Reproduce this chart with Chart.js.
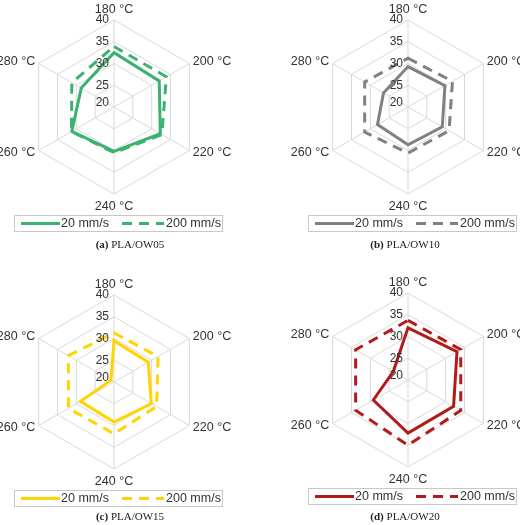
<!DOCTYPE html>
<html><head><meta charset="utf-8">
<script src="https://cdn.jsdelivr.net/npm/chart.js@4"></script>
<style>
body{margin:0;background:#fff;width:520px;height:525px;position:relative;overflow:hidden}
.p{position:absolute;width:260px;height:250px}
.cap{position:absolute;width:260px;text-align:center;font:11px "Liberation Serif",serif;color:#222}
</style></head><body>
<div class="p" style="left:0;top:0"><canvas id="c0" width="260" height="250"></canvas></div>
<div class="p" style="left:260px;top:0"><canvas id="c1" width="260" height="250"></canvas></div>
<div class="p" style="left:0;top:262px"><canvas id="c2" width="260" height="250"></canvas></div>
<div class="p" style="left:260px;top:262px"><canvas id="c3" width="260" height="250"></canvas></div>
<div class="cap" style="left:0;top:238px"><b>(a)</b> PLA/OW05</div>
<div class="cap" style="left:260px;top:238px;padding-left:30px;box-sizing:border-box"><b>(b)</b> PLA/OW10</div>
<div class="cap" style="left:0;top:510px"><b>(c)</b> PLA/OW15</div>
<div class="cap" style="left:260px;top:510px;padding-left:30px;box-sizing:border-box"><b>(d)</b> PLA/OW20</div>
<script>
const categories = ["180 °C","200 °C","220 °C","240 °C","260 °C","280 °C"];
const seriesNames = ["20 mm/s","200 mm/s"];
const tickValues = [20,25,30,35,40];
const ow05_20 = [32.5,32.0,32.3,30.2,31.2,28.7];
const ow05_200 = [33.9,33.9,32.7,30.5,31.3,31.2];
const ow10_20 = [29.3,29.8,29.1,28.7,28.1,26.5];
const ow10_200 = [31.2,31.8,30.9,30.6,31.5,31.5];
const ow15_20 = [29.5,29.1,29.9,29.2,28.9,20.8];
const ow15_200 = [31.3,31.7,31.3,31.9,32.1,32.1];
const ow20_20 = [32.0,33.0,32.1,32.2,29.2,23.9];
const ow20_200 = [33.7,34.0,34.0,35.0,33.9,33.9];
const colors = ["#3bb36e","#808080","#ffd400","#b31b1b"];

const panels = [
  {id:"c0", a:ow05_20, b:ow05_200, col:colors[0], cx:114, cy:107},
  {id:"c1", a:ow10_20, b:ow10_200, col:colors[1], cx:148, cy:107},
  {id:"c2", a:ow15_20, b:ow15_200, col:colors[2], cx:114, cy:120},
  {id:"c3", a:ow20_20, b:ow20_200, col:colors[3], cx:148, cy:118}
];
const FONT = "'Liberation Sans', Arial, sans-serif";

const deco = {
  id:"deco",
  afterDraw(chart){
    const ctx = chart.ctx, s = chart.scales.r;
    const cx = s.xCenter, cy = s.yCenter;
    ctx.save();
    ctx.fillStyle = "#333";
    ctx.font = "12px " + FONT;
    ctx.textAlign = "right"; ctx.textBaseline = "middle";
    tickValues.forEach(v => {
      const d = s.getDistanceFromCenterForValue(v);
      ctx.fillText(String(v), cx - 5, cy - d - (v===20?4:0));
    });
    ctx.font = "12.5px " + FONT;
    categories.forEach((c,i) => {
      const p = s.getPointPosition(i, s.drawingArea + 4);
      if (i===0){ctx.textAlign="center";ctx.textBaseline="bottom";}
      else if (i===3){ctx.textAlign="center";ctx.textBaseline="top";p.y+=2;}
      else if (i<3){ctx.textAlign="left";ctx.textBaseline="middle";}
      else {ctx.textAlign="right";ctx.textBaseline="middle";}
      ctx.fillText(c, p.x, p.y);
    });
    // legend
    const col = chart.data.datasets[0].borderColor;
    const L = cx - 100, T = cy + 108, W = 208, H = 16;
    ctx.strokeStyle = "#c8c8c8"; ctx.lineWidth = 1;
    ctx.strokeRect(Math.round(L)+0.5, Math.round(T)+0.5, W, H);
    const my = Math.round(T) + 8.5;
    ctx.strokeStyle = col; ctx.lineWidth = 3;
    ctx.beginPath(); ctx.moveTo(L+7, my); ctx.lineTo(L+46, my); ctx.stroke();
    ctx.setLineDash([10,7]);
    ctx.beginPath(); ctx.moveTo(L+108, my); ctx.lineTo(L+150, my); ctx.stroke();
    ctx.setLineDash([]);
    ctx.fillStyle = "#333"; ctx.textAlign = "left"; ctx.textBaseline = "middle";
    ctx.font = "12.5px " + FONT;
    ctx.fillText(seriesNames[0], L+47, my+0.5);
    ctx.fillText(seriesNames[1], L+152, my+0.5);
    ctx.restore();
  }
};

panels.forEach(p => {
  const R = 87;
  new Chart(document.getElementById(p.id), {
    type:"radar",
    data:{labels:categories, datasets:[
      {label:seriesNames[0], data:p.a, borderColor:p.col, backgroundColor:p.col, borderWidth:3, fill:false, pointRadius:0, tension:0},
      {label:seriesNames[1], data:p.b, borderColor:p.col, backgroundColor:p.col, borderWidth:3, borderDash:[10,7], fill:false, pointRadius:0, tension:0}
    ]},
    options:{
      responsive:false, animation:false,
      layout:{padding:{left:p.cx-R, right:260-p.cx-R, top:p.cy-R, bottom:250-p.cy-R}},
      plugins:{tooltip:{enabled:false}, legend:{display:false}},
      scales:{r:{min:20,max:40,
        ticks:{stepSize:5, display:false},
        grid:{color:"#d9d9d9", lineWidth:1},
        angleLines:{color:"#d9d9d9"},
        pointLabels:{display:false}
      }}
    },
    plugins:[deco]
  });
});
</script>
</body></html>
